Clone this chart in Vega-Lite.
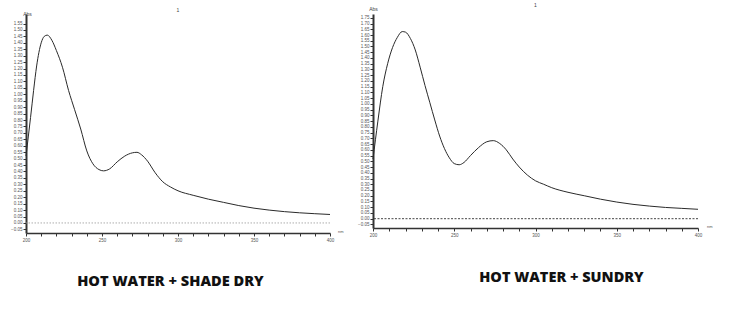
{
  "$schema": "https://vega.github.io/schema/vega-lite/v6.json",
  "background": "white",
  "padding": {"left": 10, "top": 3, "right": 5, "bottom": 5},
  "spacing": 13,
  "datasets": {
    "shade": [
      {"nm": 200, "abs": 0.52}, {"nm": 203, "abs": 0.82}, {"nm": 205, "abs": 1.03}, {"nm": 207, "abs": 1.22},
      {"nm": 210, "abs": 1.4}, {"nm": 212, "abs": 1.45}, {"nm": 214, "abs": 1.46}, {"nm": 217, "abs": 1.42},
      {"nm": 220, "abs": 1.34}, {"nm": 224, "abs": 1.21}, {"nm": 228, "abs": 1.03}, {"nm": 232, "abs": 0.88},
      {"nm": 236, "abs": 0.73}, {"nm": 240, "abs": 0.56}, {"nm": 244, "abs": 0.46}, {"nm": 248, "abs": 0.415},
      {"nm": 251, "abs": 0.405}, {"nm": 255, "abs": 0.42}, {"nm": 260, "abs": 0.475}, {"nm": 265, "abs": 0.52},
      {"nm": 270, "abs": 0.545}, {"nm": 273, "abs": 0.549}, {"nm": 276, "abs": 0.53}, {"nm": 280, "abs": 0.48},
      {"nm": 285, "abs": 0.39}, {"nm": 290, "abs": 0.32}, {"nm": 295, "abs": 0.28}, {"nm": 300, "abs": 0.25},
      {"nm": 310, "abs": 0.215}, {"nm": 320, "abs": 0.185}, {"nm": 330, "abs": 0.16}, {"nm": 340, "abs": 0.135},
      {"nm": 350, "abs": 0.115}, {"nm": 360, "abs": 0.1}, {"nm": 370, "abs": 0.088}, {"nm": 380, "abs": 0.079},
      {"nm": 390, "abs": 0.072}, {"nm": 400, "abs": 0.066}
    ],
    "sundry": [
      {"nm": 200, "abs": 0.52}, {"nm": 203, "abs": 0.85}, {"nm": 206, "abs": 1.15}, {"nm": 209, "abs": 1.35},
      {"nm": 212, "abs": 1.49}, {"nm": 215, "abs": 1.58}, {"nm": 218, "abs": 1.63}, {"nm": 220, "abs": 1.625},
      {"nm": 223, "abs": 1.57}, {"nm": 226, "abs": 1.47}, {"nm": 229, "abs": 1.32}, {"nm": 232, "abs": 1.16},
      {"nm": 235, "abs": 1.01}, {"nm": 238, "abs": 0.86}, {"nm": 241, "abs": 0.72}, {"nm": 244, "abs": 0.61},
      {"nm": 247, "abs": 0.53}, {"nm": 250, "abs": 0.48}, {"nm": 253, "abs": 0.47}, {"nm": 256, "abs": 0.49},
      {"nm": 260, "abs": 0.55}, {"nm": 265, "abs": 0.62}, {"nm": 270, "abs": 0.67}, {"nm": 274, "abs": 0.68},
      {"nm": 278, "abs": 0.655}, {"nm": 282, "abs": 0.6}, {"nm": 286, "abs": 0.52}, {"nm": 290, "abs": 0.45},
      {"nm": 295, "abs": 0.38}, {"nm": 300, "abs": 0.33}, {"nm": 305, "abs": 0.3}, {"nm": 310, "abs": 0.27},
      {"nm": 320, "abs": 0.23}, {"nm": 330, "abs": 0.2}, {"nm": 340, "abs": 0.17}, {"nm": 350, "abs": 0.145},
      {"nm": 360, "abs": 0.125}, {"nm": 370, "abs": 0.11}, {"nm": 380, "abs": 0.098}, {"nm": 390, "abs": 0.09},
      {"nm": 400, "abs": 0.082}
    ]
  },
  "config": {
    "view": {"stroke": null},
    "font": "Liberation Sans",
    "axis": {
      "grid": false,
      "domainColor": "#333",
      "tickColor": "#333",
      "labelColor": "#555",
      "labelFontSize": 4.5,
      "labelOverlap": false,
      "labelFlush": false,
      "tickSize": 3,
      "labelPadding": 1
    },
    "title": {"font": "Liberation Sans", "fontSize": 5, "fontWeight": "normal", "color": "#444"}
  },
  "hconcat": [
    {
      "width": 304,
      "height": 219,
      "title": {"text": "1", "frame": "group", "offset": -2},
      "layer": [
        {
          "data": {"values": [{}]},
          "mark": {"type": "rule", "color": "#999", "strokeDash": [1.5, 1.5], "strokeWidth": 0.8},
          "encoding": {"y": {"datum": 0, "type": "quantitative"}}
        },
        {
          "data": {"name": "shade"},
          "mark": {"type": "line", "color": "#2a2a2a", "strokeWidth": 1, "interpolate": "monotone"},
          "encoding": {
            "x": {
              "field": "nm", "type": "quantitative",
              "scale": {"domain": [200, 400], "nice": false, "zero": false},
              "axis": {
                "values": [200, 210, 220, 230, 240, 250, 260, 270, 280, 290, 300, 310, 320, 330, 340, 350, 360, 370, 380, 390, 400],
                "tickCount": 50,
                "labelExpr": "datum.value % 50 == 0 ? datum.label : ''",
                "labelOverlap": false,
                "labelFlush": false,
                "domainWidth": 1.5,
                "title": "HOT WATER + SHADE DRY",
                "titleFont": "Open Sans",
                "titleFontSize": 14.6,
                "titleFontWeight": 800,
                "titleColor": "#111",
                "titleX": 144,
                "titleY": 48,
                "titleBaseline": "middle",
                "titleAlign": "center"
              }
            },
            "y": {
              "field": "abs", "type": "quantitative",
              "scale": {"domain": [-0.078, 1.624], "nice": false, "zero": false},
              "axis": {
                "values": [-0.05, 0, 0.05, 0.1, 0.15, 0.2, 0.25, 0.3, 0.35, 0.4, 0.45, 0.5, 0.55, 0.6, 0.65, 0.7, 0.75, 0.8, 0.85, 0.9, 0.95, 1, 1.05, 1.1, 1.15, 1.2, 1.25, 1.3, 1.35, 1.4, 1.45, 1.5, 1.55],
                "tickCount": 100,
                "format": ".2f",
                "labelOverlap": false,
                "domainWidth": 2,
                "title": "Abs",
                "titleAngle": 0,
                "titleFontSize": 5,
                "titleFontWeight": "normal",
                "titleColor": "#444",
                "titleX": 1,
                "titleY": -1,
                "titleAlign": "center",
                "titleBaseline": "middle"
              }
            }
          }
        },
        {
          "data": {"values": [{}]},
          "mark": {"type": "text", "text": "nm", "fontSize": 4, "color": "#555", "align": "left", "baseline": "middle", "dx": 8, "dy": -1},
          "encoding": {"x": {"datum": 400, "type": "quantitative"}, "y": {"datum": -0.078, "type": "quantitative"}}
        }
      ]
    },
    {
      "width": 325,
      "height": 214,
      "title": {"text": "1", "frame": "group", "offset": -2},
      "layer": [
        {
          "data": {"values": [{}]},
          "mark": {"type": "rule", "color": "#444", "strokeDash": [2, 1.5], "strokeWidth": 1},
          "encoding": {"y": {"datum": 0, "type": "quantitative"}}
        },
        {
          "data": {"name": "sundry"},
          "mark": {"type": "line", "color": "#2a2a2a", "strokeWidth": 1, "interpolate": "monotone"},
          "encoding": {
            "x": {
              "field": "nm", "type": "quantitative",
              "scale": {"domain": [200, 400], "nice": false, "zero": false},
              "axis": {
                "values": [200, 210, 220, 230, 240, 250, 260, 270, 280, 290, 300, 310, 320, 330, 340, 350, 360, 370, 380, 390, 400],
                "tickCount": 50,
                "labelExpr": "datum.value % 50 == 0 ? datum.label : ''",
                "labelOverlap": false,
                "labelFlush": false,
                "domainWidth": 1.5,
                "title": "HOT WATER + SUNDRY",
                "titleFont": "Open Sans",
                "titleFontSize": 14.5,
                "titleFontWeight": 800,
                "titleColor": "#111",
                "titleX": 188,
                "titleY": 49.5,
                "titleBaseline": "middle",
                "titleAlign": "center"
              }
            },
            "y": {
              "field": "abs", "type": "quantitative",
              "scale": {"domain": [-0.081, 1.783], "nice": false, "zero": false},
              "axis": {
                "values": [-0.05, 0, 0.05, 0.1, 0.15, 0.2, 0.25, 0.3, 0.35, 0.4, 0.45, 0.5, 0.55, 0.6, 0.65, 0.7, 0.75, 0.8, 0.85, 0.9, 0.95, 1, 1.05, 1.1, 1.15, 1.2, 1.25, 1.3, 1.35, 1.4, 1.45, 1.5, 1.55, 1.6, 1.65, 1.7, 1.75],
                "tickCount": 100,
                "format": ".2f",
                "labelOverlap": false,
                "domainWidth": 2,
                "title": "Abs",
                "titleAngle": 0,
                "titleFontSize": 5,
                "titleFontWeight": "normal",
                "titleColor": "#444",
                "titleX": 0,
                "titleY": -6,
                "titleAlign": "center",
                "titleBaseline": "middle"
              }
            }
          }
        },
        {
          "data": {"values": [{}]},
          "mark": {"type": "text", "text": "nm", "fontSize": 4, "color": "#555", "align": "left", "baseline": "middle", "dx": 9, "dy": -1},
          "encoding": {"x": {"datum": 400, "type": "quantitative"}, "y": {"datum": -0.081, "type": "quantitative"}}
        }
      ]
    }
  ]
}
